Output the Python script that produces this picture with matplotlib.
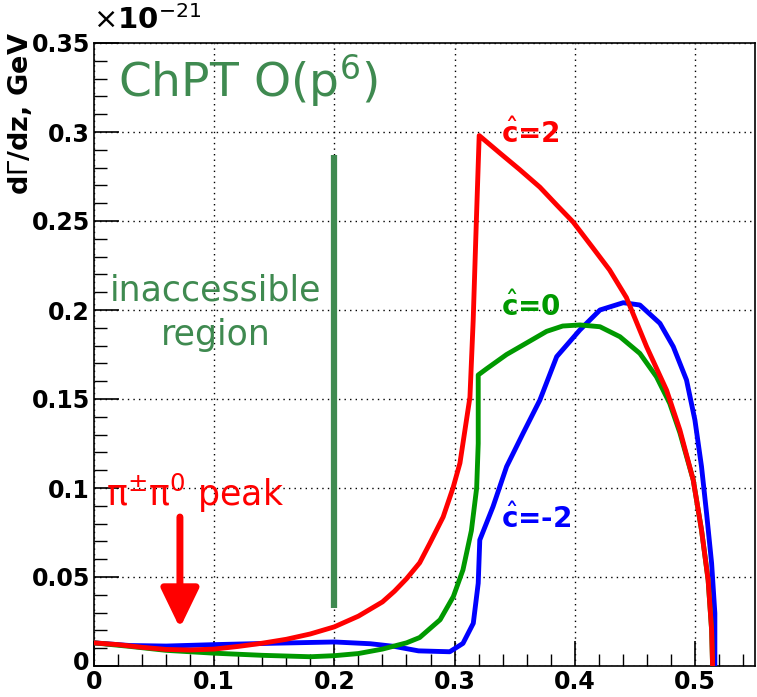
import numpy as np
import matplotlib
matplotlib.use("Agg")
import matplotlib.pyplot as plt
import matplotlib.transforms as mtransforms
from matplotlib.ticker import MultipleLocator

# z values and dGamma/dz (units of 1e-21 GeV)
z_c2 = [0.0, 0.02, 0.04, 0.06, 0.08, 0.1, 0.12, 0.14, 0.16, 0.18, 0.2, 0.22, 0.24, 0.25,
        0.26, 0.271, 0.2795, 0.2905, 0.2987, 0.3045, 0.3128, 0.3155, 0.318, 0.3205,
        0.338, 0.354, 0.371, 0.385, 0.3987, 0.415, 0.429, 0.443, 0.4598, 0.4764,
        0.4875, 0.4986, 0.5055, 0.511, 0.5139, 0.5147]
g_c2 = [0.013, 0.012, 0.0105, 0.0093, 0.009, 0.0095, 0.011, 0.0128, 0.015, 0.018, 0.022,
        0.028, 0.036, 0.042, 0.049, 0.058, 0.069, 0.0837, 0.1, 0.114, 0.151, 0.194, 0.247,
        0.298, 0.288, 0.279, 0.269, 0.259, 0.2494, 0.235, 0.2225, 0.207, 0.1794, 0.155,
        0.1326, 0.1045, 0.0764, 0.0483, 0.0202, 0.0]

z_c0 = [0.0, 0.03, 0.06, 0.1, 0.14, 0.18, 0.2, 0.22, 0.24, 0.26, 0.271, 0.288, 0.299,
        0.307, 0.314, 0.3184, 0.3197, 0.3197, 0.3267, 0.3433, 0.36, 0.3766, 0.39, 0.4043,
        0.421, 0.4376, 0.4542, 0.468, 0.479, 0.4875, 0.4986, 0.5055, 0.511, 0.5139, 0.5147]
g_c0 = [0.013, 0.011, 0.0088, 0.0072, 0.006, 0.0052, 0.0058, 0.007, 0.0095, 0.013, 0.016,
        0.026, 0.039, 0.054, 0.076, 0.1, 0.125, 0.1635, 0.167, 0.175, 0.1815, 0.188, 0.191,
        0.1916, 0.1906, 0.185, 0.1756, 0.1625, 0.1476, 0.131, 0.1045, 0.0764, 0.0483,
        0.0202, 0.0]

z_cm2 = [0.0, 0.03, 0.06, 0.1, 0.15, 0.2, 0.23, 0.25, 0.27, 0.296, 0.307, 0.3156, 0.3197,
         0.321, 0.332, 0.3433, 0.357, 0.371, 0.385, 0.4043, 0.421, 0.4404, 0.4542, 0.4709,
         0.482, 0.493, 0.5, 0.5055, 0.5097, 0.5139, 0.5166, 0.5166]
g_cm2 = [0.013, 0.0115, 0.0112, 0.012, 0.0128, 0.0135, 0.0125, 0.011, 0.0085, 0.008, 0.0127,
         0.024, 0.0465, 0.0708, 0.0895, 0.112, 0.1307, 0.1494, 0.1738, 0.1888, 0.2, 0.2041,
         0.2028, 0.1925, 0.1794, 0.1607, 0.1382, 0.112, 0.0858, 0.0577, 0.0296, 0.0]

xticks = [0, 0.1, 0.2, 0.3, 0.4, 0.5]
xticklabels = ["0", "0.1", "0.2", "0.3", "0.4", "0.5"]
yticks = [0, 0.05, 0.1, 0.15, 0.2, 0.25, 0.3, 0.35]
yticklabels = ["0", "0.05", "0.1", "0.15", "0.2", "0.25", "0.3", "0.35"]

fig = plt.figure(figsize=(7.57, 6.97), dpi=100)
ax = fig.add_axes([94/757, 31/697, 661/757, 623/697])

dkgreen = "#3f8a50"

ax.plot([0.2, 0.2], [0.0326, 0.287], color=dkgreen, lw=4.5, solid_capstyle="butt", zorder=3)
ax.plot(z_cm2, g_cm2, color="#0000ff", lw=3.5, zorder=4)
ax.plot(z_c0, g_c0, color="#009900", lw=3.5, zorder=5)
ax.plot(z_c2, g_c2, color="#ff0000", lw=3.5, zorder=6)

ax.set_xlim(0, 0.55)
ax.set_ylim(0, 0.35)
ax.set_xticks(xticks)
ax.set_xticklabels(xticklabels)
ax.set_yticks(yticks)
ax.set_yticklabels(yticklabels)
ax.xaxis.set_minor_locator(MultipleLocator(0.02))
ax.yaxis.set_minor_locator(MultipleLocator(0.01))
ax.tick_params(which="major", direction="in", length=18, width=1.2, labelsize=17,
               top=False, right=False, pad=3)
ax.tick_params(which="minor", direction="in", length=9, width=1.0, top=False, right=False)
for lab in ax.get_xticklabels() + ax.get_yticklabels():
    lab.set_fontweight("bold")
# lift the y "0" a little so it clears the x "0", as in the reference
ylab0 = ax.get_yticklabels()[0]
ylab0.set_transform(ylab0.get_transform() +
                    mtransforms.ScaledTranslation(0, 5/100, fig.dpi_scale_trans))
ax.grid(True, which="major", color="black", linestyle=(0, (1, 3)), lw=1.0)
for s in ax.spines.values():
    s.set_linewidth(1.2)

fig.text(93/757, 1 - 20/697, r"$\times$10$^{-21}$", fontsize=21, fontweight="bold",
         ha="left", va="center")
fig.text(20/757, 1 - 32/697, r"d$\Gamma$/dz, GeV", fontsize=19.5, fontweight="bold",
         rotation=90, ha="center", va="top")

ax.text(0.02, 0.329, r"ChPT O(p$^6$)", color=dkgreen, fontsize=34, ha="left", va="center")
ax.text(0.101, 0.211, "inaccessible", color=dkgreen, fontsize=25, ha="center", va="center")
ax.text(0.101, 0.186, "region", color=dkgreen, fontsize=25, ha="center", va="center")
ax.text(0.01, 0.097, r"π$^{\pm}$π$^{0}$ peak", color="#ff0000", fontsize=25,
        ha="left", va="center")
ax.annotate("", xy=(0.0715, 0.0213), xytext=(0.0715, 0.0837),
            arrowprops=dict(arrowstyle="-|>,head_length=1.2,head_width=0.58",
                            mutation_scale=20, shrinkA=0, shrinkB=0,
                            color="#ff0000", lw=5))
ax.text(0.339, 0.299, r"$\hat{\mathbf{c}}$=2", color="#ff0000", fontsize=20,
        fontweight="bold", ha="left", va="center")
ax.text(0.339, 0.202, r"$\hat{\mathbf{c}}$=0", color="#009900", fontsize=20,
        fontweight="bold", ha="left", va="center")
ax.text(0.339, 0.083, r"$\hat{\mathbf{c}}$=-2", color="#0000ff", fontsize=20,
        fontweight="bold", ha="left", va="center")

fig.savefig("out.png", dpi=100)
